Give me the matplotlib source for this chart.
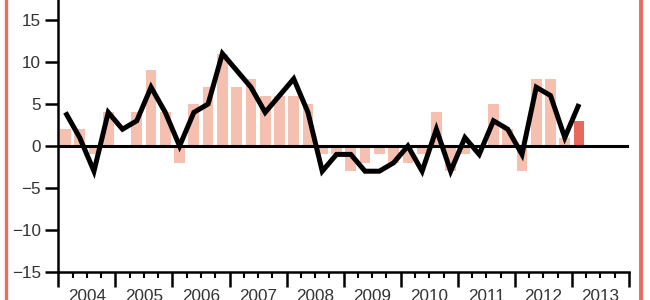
import numpy as np
import matplotlib
matplotlib.use("Agg")
import matplotlib.pyplot as plt
from matplotlib.lines import Line2D

plt.rcParams['font.family'] = ['Liberation Sans', 'DejaVu Sans']

# quarterly data, 2004Q1 .. 2013Q1
bar_values = [2, 2, -1, 4, 0, 4, 9, 4, -2, 5, 7, 11,
              7, 8, 6, 6, 6, 5, -1, -1, -3, -2, -1, -2,
              -2, -1, 4, -3, -1, 0, 5, 2, -3, 8, 8, 1,
              3]
line_values = [4, 1, -3, 4, 2, 3, 7, 4, 0, 4, 5, 11,
               9, 7, 4, 6, 8, 4, -3, -1, -1, -3, -3, -2,
               0, -3, 2, -3, 1, -1, 3, 2, -1, 7, 6, 1,
               5]
years = list(range(2004, 2014))
start_year = 2004

bar_color = '#F6C0B1'
last_bar_color = '#E8695B'
border_color = '#EA6B5F'
text_color = '#333333'

n = len(bar_values)
x = start_year + (np.arange(n) + 0.5) * 0.25
colors = [bar_color] * (n - 1) + [last_bar_color]

fig = plt.figure(figsize=(6.5, 3.0), dpi=100)
ax = fig.add_axes([58.3 / 650, 28 / 300, (629 - 58.3) / 650, 272 / 300])

ax.bar(x, bar_values, width=0.25 * 0.75, color=colors, zorder=1)
ax.axhline(0, color='black', lw=2.2, zorder=2)
ax.plot(x, line_values, color='black', lw=3.6, zorder=3,
        solid_joinstyle='miter', solid_capstyle='butt')

ax.set_xlim(2004, 2014)
ax.set_ylim(-15, 15 + 20 / 8.4)

for s in ['top', 'right']:
    ax.spines[s].set_visible(False)
for s in ['left', 'bottom']:
    ax.spines[s].set_linewidth(1.8)

ax.set_yticks(range(-15, 16, 5))
ax.tick_params(axis='y', length=9.4, width=1.8, pad=3, labelsize=12.3,
               labelcolor=text_color)

ax.set_xticks(range(2004, 2015))
ax.set_xticklabels([])
ax.set_xticks(np.arange(2004, 2014.01, 0.25), minor=True)
ax.tick_params(axis='x', which='major', length=10.8, width=1.8)
ax.tick_params(axis='x', which='minor', length=4.3, width=1.5)

for yr in years:
    ax.annotate(str(yr), xy=(yr + 0.5, 0), xycoords=('data', 'axes fraction'),
                xytext=(0, -17), textcoords='offset pixels',
                ha='center', va='top', fontsize=12.3, color=text_color,
                annotation_clip=False)

# red frame edges
fig.add_artist(Line2D([5.5 / 650, 5.5 / 650], [0, 1], color=border_color,
                      lw=2.4, transform=fig.transFigure))
fig.add_artist(Line2D([641 / 650, 641 / 650], [0, 1], color=border_color,
                      lw=2.8, transform=fig.transFigure))

fig.savefig('out.png', dpi=100)
